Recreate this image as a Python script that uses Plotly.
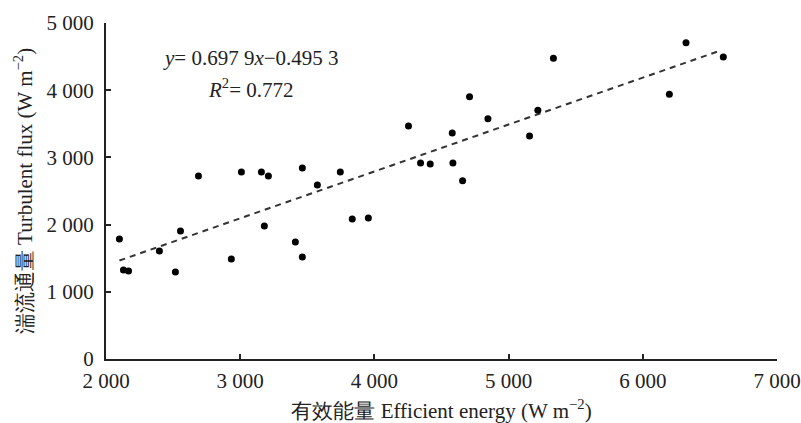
import plotly.graph_objects as go

# Data
energy = [2100, 2130, 2168, 2398, 2517, 2555, 2689, 2934, 3009, 3158, 3180, 3210,
          3411, 3463, 3463, 3575, 3746, 3835, 3955, 4254, 4344, 4416, 4580, 4585,
          4657, 4709, 4846, 5156, 5218, 5334, 6198, 6322, 6600]
flux = [1786, 1324, 1310, 1607, 1295, 1905, 2723, 1488, 2783, 2783, 1979, 2723,
        1741, 2842, 1518, 2589, 2783, 2083, 2098, 3467, 2917, 2902, 3363, 2917,
        2653, 3903, 3576, 3318, 3701, 4475, 3938, 4707, 4494]

slope = 0.6979
intercept = -0.4953
fit_x = [2100, 6580]
fit_y = [slope * v + intercept for v in fit_x]

x_ticks = [2000, 3000, 4000, 5000, 6000, 7000]
y_ticks = [0, 1000, 2000, 3000, 4000, 5000]
x_labels = ["2 000", "3 000", "4 000", "5 000", "6 000", "7 000"]
y_labels = ["0", "1 000", "2 000", "3 000", "4 000", "5 000"]

FONT = "Liberation Serif"
FS = 21

fig = go.Figure()
fig.add_trace(go.Scatter(x=fit_x, y=fit_y, mode="lines",
                         line=dict(color="#333333", width=2, dash="6px,5px"),
                         showlegend=False, hoverinfo="skip"))
fig.add_trace(go.Scatter(x=energy, y=flux, mode="markers",
                         marker=dict(color="black", size=7),
                         showlegend=False))

fig.add_annotation(x=0.216, y=0.896, xref="paper", yref="paper",
                   xanchor="center", yanchor="middle",
                   text="<i>y</i>= 0.697 9<i>x</i>−0.495 3", showarrow=False,
                   font=dict(family=FONT, size=FS, color="#222"))
fig.add_annotation(x=0.216, y=0.804, xref="paper", yref="paper",
                   xanchor="center", yanchor="middle",
                   text="<i>R</i><sup>2</sup>= 0.772", showarrow=False,
                   font=dict(family=FONT, size=FS, color="#222"))

fig.update_layout(
    width=801, height=423,
    margin=dict(l=106, r=24, t=23, b=64),
    plot_bgcolor="white", paper_bgcolor="white",
    font=dict(family=FONT, size=FS, color="#222"),
    xaxis=dict(range=[2000, 7000], tickvals=x_ticks, ticktext=x_labels,
               showgrid=False, zeroline=False, showline=True, automargin=False,
               linecolor="#222", linewidth=2, ticks="inside", ticklen=5,
               tickcolor="#222", tickwidth=2, tickfont=dict(size=FS),
               ticklabelstandoff=2,
               title=dict(text="有效能量 Efficient energy (W m<sup>−2</sup>)",
                          standoff=13, font=dict(size=FS))),
    yaxis=dict(range=[0, 5000], tickvals=y_ticks, ticktext=y_labels,
               showgrid=False, zeroline=False, showline=True, automargin=False,
               linecolor="#222", linewidth=2, ticks="inside", ticklen=5,
               tickcolor="#222", tickwidth=2, tickfont=dict(size=FS),
               ticklabelstandoff=6,
               title=dict(text="湍流通量 Turbulent flux (W m<sup>−2</sup>)",
                          standoff=8, font=dict(size=FS))),
)

fig.write_html("out.html")
